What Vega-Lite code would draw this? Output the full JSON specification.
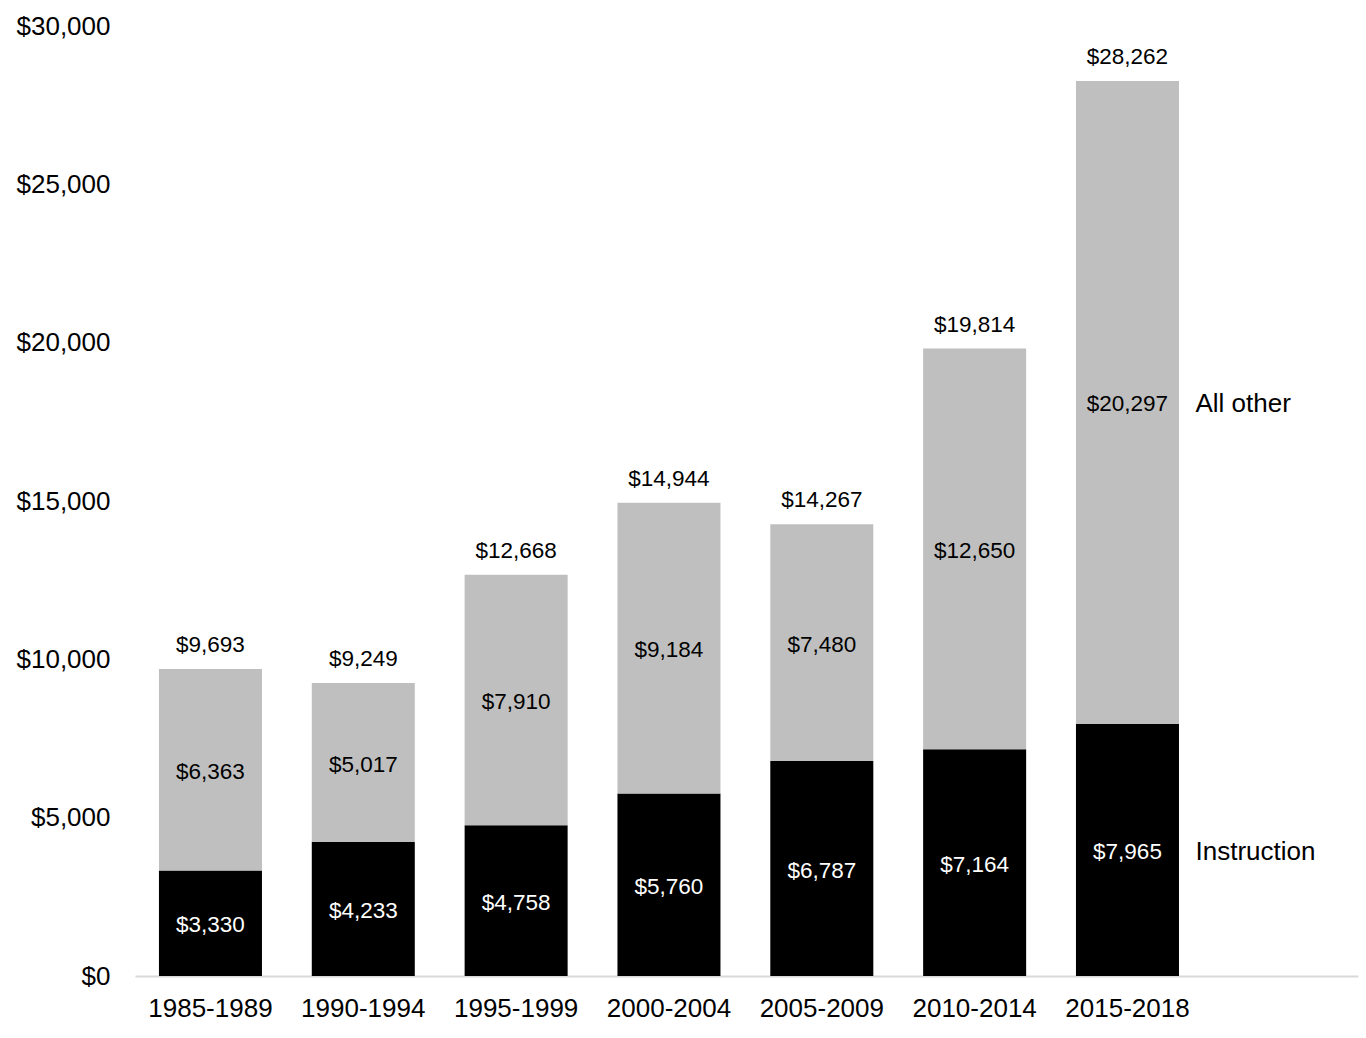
{
  "$schema": "https://vega.github.io/schema/vega-lite/v6.json",
  "width": 1223,
  "height": 950,
  "autosize": {"type": "none"},
  "padding": {"left": 135, "top": 26, "right": 8, "bottom": 62},
  "config": {
    "view": {"stroke": null},
    "font": "Liberation Sans",
    "axis": {"labelFont": "Liberation Sans", "labelColor": "#000000"},
    "text": {"font": "Liberation Sans"}
  },
  "datasets": {
    "parts": [
      {"period": "1985-1989", "series": "Instruction", "value": 3330},
      {"period": "1985-1989", "series": "All other", "value": 6363},
      {"period": "1990-1994", "series": "Instruction", "value": 4233},
      {"period": "1990-1994", "series": "All other", "value": 5017},
      {"period": "1995-1999", "series": "Instruction", "value": 4758},
      {"period": "1995-1999", "series": "All other", "value": 7910},
      {"period": "2000-2004", "series": "Instruction", "value": 5760},
      {"period": "2000-2004", "series": "All other", "value": 9184},
      {"period": "2005-2009", "series": "Instruction", "value": 6787},
      {"period": "2005-2009", "series": "All other", "value": 7480},
      {"period": "2010-2014", "series": "Instruction", "value": 7164},
      {"period": "2010-2014", "series": "All other", "value": 12650},
      {"period": "2015-2018", "series": "Instruction", "value": 7965},
      {"period": "2015-2018", "series": "All other", "value": 20297}
    ],
    "totals": [
      {"period": "1985-1989", "total": 9693},
      {"period": "1990-1994", "total": 9249},
      {"period": "1995-1999", "total": 12668},
      {"period": "2000-2004", "total": 14944},
      {"period": "2005-2009", "total": 14267},
      {"period": "2010-2014", "total": 19814},
      {"period": "2015-2018", "total": 28262}
    ]
  },
  "encoding": {
    "x": {
      "field": "period",
      "type": "nominal",
      "sort": null,
      "scale": {"paddingInner": 0.326, "paddingOuter": 0.664, "align": 0.118},
      "axis": {
        "title": null,
        "labelAngle": 0,
        "labelFontSize": 26,
        "labelPadding": 19,
        "ticks": false,
        "domainColor": "#d9d9d9",
        "domainWidth": 2
      }
    }
  },
  "layer": [
    {
      "data": {"name": "parts"},
      "mark": {"type": "bar"},
      "encoding": {
        "y": {
          "field": "value",
          "type": "quantitative",
          "stack": "zero",
          "scale": {"domain": [0, 30000], "nice": false},
          "axis": {
            "title": null,
            "values": [0, 5000, 10000, 15000, 20000, 25000, 30000],
            "format": "$,.0f",
            "labelFontSize": 26,
            "labelPadding": 25,
            "ticks": false,
            "domain": false,
            "grid": false
          }
        },
        "color": {
          "field": "series",
          "type": "nominal",
          "scale": {"domain": ["Instruction", "All other"], "range": ["#000000", "#bfbfbf"]},
          "legend": null
        },
        "order": {"field": "series", "sort": "descending"}
      }
    },
    {
      "data": {"name": "parts"},
      "mark": {"type": "text", "fontSize": 22.5, "baseline": "middle", "align": "center", "dy": 2},
      "encoding": {
        "y": {"field": "value", "type": "quantitative", "stack": "zero", "bandPosition": 0.5},
        "text": {"field": "value", "type": "quantitative", "format": "$,.0f"},
        "color": {"condition": {"test": "datum.series === 'Instruction'", "value": "#ffffff"}, "value": "#000000"},
        "order": {"field": "series", "sort": "descending"}
      }
    },
    {
      "data": {"name": "parts"},
      "transform": [{"filter": "datum.period === '2015-2018'"}],
      "mark": {"type": "text", "fontSize": 26, "baseline": "middle", "align": "left", "dx": 68, "dy": 2, "color": "#000000"},
      "encoding": {
        "y": {"field": "value", "type": "quantitative", "stack": "zero", "bandPosition": 0.5},
        "text": {"field": "series", "type": "nominal"},
        "order": {"field": "series", "sort": "descending"}
      }
    },
    {
      "data": {"name": "totals"},
      "mark": {"type": "text", "fontSize": 22.5, "baseline": "alphabetic", "align": "center", "dy": -17, "color": "#000000"},
      "encoding": {
        "y": {"field": "total", "type": "quantitative"},
        "text": {"field": "total", "type": "quantitative", "format": "$,.0f"}
      }
    }
  ]
}
